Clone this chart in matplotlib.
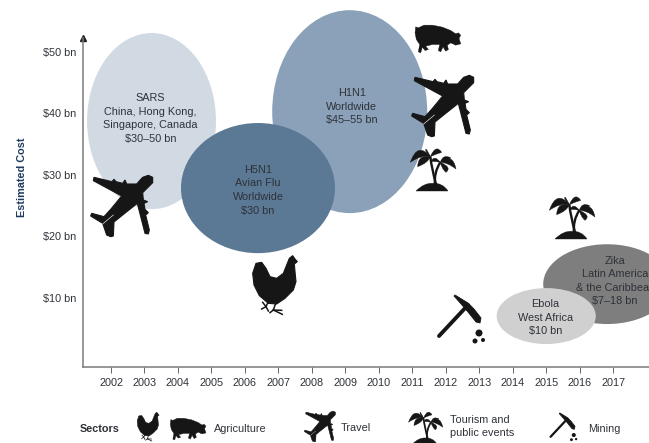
import matplotlib
matplotlib.use('Agg')
import matplotlib.pyplot as plt
from matplotlib.patches import Ellipse, PathPatch, Polygon, Circle
from matplotlib.path import Path
from matplotlib.transforms import Affine2D

plt.rcParams['font.family'] = ['Liberation Sans', 'DejaVu Sans']

# values
years = list(range(2002, 2018))
cost_ticks = [10, 20, 30, 40, 50]
cost_labels = ['$10 bn', '$20 bn', '$30 bn', '$40 bn', '$50 bn']

outbreaks = ['SARS', 'H1N1', 'H5N1', 'Zika', 'Ebola']
mid_year = [2003.21, 2009.13, 2006.39, 2016.82, 2015.0]
mid_cost = [38.76, 40.3, 27.85, 12.2, 7.0]
span_year = [3.85, 4.63, 4.6, 3.82, 2.96]
span_cost = [28.7, 33.06, 21.2, 13.0, 9.12]
captions = ['SARS\nChina, Hong Kong,\nSingapore, Canada\n$30\u201350 bn',
            'H1N1\nWorldwide\n$45\u201355 bn',
            'H5N1\nAvian Flu\nWorldwide\n$30 bn',
            'Zika\nLatin America\n& the Caribbean\n$7\u201318 bn',
            'Ebola\nWest Africa\n$10 bn']

colors = ['#d1d9e3', '#8ba1b9', '#5b7995', '#7e7e7e', '#d0d0d0']
caption_year = [2003.18, 2009.19, 2006.39, 2017.06, 2014.97]
caption_cost = [39.2, 41.1, 27.5, 12.7, 6.7]

TXT = '#2e3238'
FS = 7.8

fig = plt.figure(figsize=(6.49, 4.43), dpi=100)
ax = fig.add_axes([83 / 649, 1 - 367 / 443, 566 / 649, 329 / 443])
ax.set_xlim(2001.163, 2018.07)
ax.set_ylim(-1.3, 52.3)

for i in range(len(outbreaks)):
    ax.add_patch(Ellipse((mid_year[i], mid_cost[i]), span_year[i], span_cost[i],
                         fc=colors[i], ec='none', clip_on=False))
    ax.text(caption_year[i], caption_cost[i], captions[i], ha='center', va='center',
            fontsize=FS, color=TXT, linespacing=1.45, clip_on=False)

for s in ['top', 'right']:
    ax.spines[s].set_visible(False)
for s in ['left', 'bottom']:
    ax.spines[s].set_color('#7a7a7a')
    ax.spines[s].set_linewidth(1.1)
ax.plot(0, 1, '^', color='#222222', ms=4, transform=ax.transAxes, clip_on=False)

ax.set_xticks(years)
ax.set_xticklabels(years, fontsize=FS, color=TXT)
ax.set_yticks(cost_ticks)
ax.set_yticklabels(cost_labels, fontsize=FS, color=TXT)
ax.tick_params(axis='x', length=4, width=0.7, color='#666666', pad=4)
ax.tick_params(axis='y', length=0, pad=5)
ax.set_ylabel('Estimated Cost', fontsize=FS, fontweight='bold', color='#1f3a5f')
ax.yaxis.set_label_coords(27 / 649, 1 - 177 / 443, transform=fig.transFigure)

# icons are drawn in picture pixels, y going down
pix = Affine2D().scale(1, -1).translate(0, 443)

plane = [(205, 16), (188, 22), (170, 42), (140, 42), (135, 30), (128, 40), (108, 35), (102, 28),
         (96, 35), (42, 22), (40, 32), (125, 78), (92, 118), (72, 140), (35, 130), (32, 138),
         (68, 160), (80, 195), (92, 200), (100, 198), (102, 156), (128, 135), (172, 100),
         (195, 190), (205, 192), (208, 180), (197, 135), (205, 128), (195, 118), (192, 100),
         (203, 95), (190, 90), (188, 68), (218, 38), (218, 22)]
pig = [(30, 37), (38, 40), (55, 32), (80, 32), (110, 38), (135, 48), (150, 58), (158, 55),
       (165, 62), (160, 72), (165, 88), (150, 92), (135, 85), (125, 92), (128, 105), (120, 110),
       (112, 97), (105, 112), (98, 108), (102, 90), (80, 90), (60, 95), (68, 105), (58, 108),
       (50, 98), (45, 115), (38, 112), (42, 90), (32, 75), (28, 55)]
hen = [(48, 55), (65, 52), (78, 70), (90, 95), (110, 100), (130, 85), (140, 60), (148, 40),
       (158, 32), (165, 42), (172, 50), (163, 57), (165, 80), (168, 110), (160, 135), (135, 160),
       (110, 177), (85, 175), (58, 152), (42, 120), (38, 85)]
hen_legs = [[(85, 170), (78, 185), (68, 172)], [(78, 185), (85, 198)], [(78, 185), (65, 192)],
            [(108, 172), (100, 195), (127, 208)], [(100, 195), (90, 203)], [(100, 195), (125, 196)]]
fronds = [((88, 38), (28, 55), (50, -8), (60, 32)),
          ((88, 38), (122, 25), (105, -1), (105, 30)),
          ((88, 38), (50, 68), (51, 31), (81, 57)),
          ((88, 38), (75, 15), (70, 22), (82, 24)),
          ((118, 55), (165, 75), (155, 25), (139, 55)),
          ((118, 55), (135, 85), (154, 70), (122, 74)),
          ((118, 55), (90, 52), (100, 31), (104, 52)),
          ((118, 55), (150, 42), (126, 28), (136, 48))]
pick_head = [(17, 0), (30, 8), (36, 14), (43, 23), (42, 28), (38, 27), (30, 17), (24, 10), (16, 1)]
pebbles = [(41, 38, 3.5), (45, 45, 2), (37, 46, 2.5)]


def draw_plane(x, y, scale=1.0):
    t = Affine2D().scale(scale / 3).translate(x, y) + pix
    ax.add_patch(Polygon(plane, closed=True, fc='#161616', ec='#161616', lw=0.8 * scale, transform=t, clip_on=False, zorder=5))
    ax.plot([68, 100], [162, 135], color='#dddddd', lw=0.5 * scale, transform=t, clip_on=False, zorder=6)


def draw_pig(x, y, scale=1.0):
    t = Affine2D().scale(scale / 3).translate(x, y) + pix
    ax.add_patch(Polygon(pig, closed=True, fc='#161616', ec='#161616', lw=0.3, transform=t, clip_on=False, zorder=5))


def draw_hen(x, y, scale=1.0):
    t = Affine2D().scale(scale / 3).translate(x, y) + pix
    ax.add_patch(Polygon(hen, closed=True, fc='#161616', ec='#161616', lw=0.8 * scale, transform=t, clip_on=False, zorder=5))
    for leg in hen_legs:
        xs, ys = zip(*leg)
        ax.plot(xs, ys, color='#161616', lw=1.1 * scale, transform=t, clip_on=False, zorder=5)


def draw_palm(x, y, scale=1.0):
    t = Affine2D().scale(scale / 3).translate(x, y) + pix
    codes3 = [Path.MOVETO, Path.CURVE3, Path.CURVE3, Path.CURVE3, Path.CURVE3, Path.CLOSEPOLY]
    for a, b, c1, c2 in fronds:
        p = Path([a, c1, b, c2, a, a], codes3)
        ax.add_patch(PathPatch(p, fc='#161616', ec='#161616', lw=0.3, transform=t, clip_on=False, zorder=5))
    for a, c, b in [((88, 38), (92, 75), (106, 124)), ((118, 55), (98, 85), (102, 124))]:
        p = Path([a, c, b], [Path.MOVETO, Path.CURVE3, Path.CURVE3])
        ax.add_patch(PathPatch(p, fc='none', ec='#161616', lw=1.7 * scale, transform=t, clip_on=False, zorder=5))
    island = Path([(45, 141), (70, 116), (95, 118), (125, 116), (141, 141), (45, 141)],
                  [Path.MOVETO, Path.CURVE3, Path.CURVE3, Path.CURVE3, Path.CURVE3, Path.CLOSEPOLY])
    ax.add_patch(PathPatch(island, fc='#161616', ec='#161616', lw=0.3, transform=t, clip_on=False, zorder=5))


def draw_pick(x, y, scale=1.0):
    t = Affine2D().scale(scale).translate(x, y) + pix
    ax.plot([1, 30], [41, 10], color='#161616', lw=2.8 * scale, solid_capstyle='round', transform=t, clip_on=False, zorder=5)
    ax.add_patch(Polygon(pick_head, closed=True, fc='#161616', ec='#161616', lw=0.6, transform=t, clip_on=False, zorder=5))
    for px_, py_, r in pebbles:
        ax.add_patch(Circle((px_, py_), r, fc='#161616', ec='none', transform=t, clip_on=False, zorder=5))


draw_plane(80, 170)
draw_plane(401, 70)
draw_pig(405.7, 14.5)
draw_palm(401, 144)
draw_palm(540, 192)
draw_hen(240, 245)
draw_pick(438, 295)

# legend row
fig.text(79.5 / 649, 1 - 429 / 443, 'Sectors', fontsize=FS, fontweight='bold', color=TXT, va='center')
draw_hen(131, 407, 0.49)
draw_pig(163, 410, 0.78)
fig.text(213.6 / 649, 1 - 429 / 443, 'Agriculture', fontsize=FS, color=TXT, va='center')
draw_plane(299, 408.5, 0.5)
fig.text(341 / 649, 1 - 428 / 443, 'Travel', fontsize=FS, color=TXT, va='center')
draw_palm(401.5, 408.5, 0.75)
fig.text(450 / 649, 1 - 426.5 / 443, 'Tourism and\npublic events', fontsize=FS, color=TXT, va='center', linespacing=1.4)
draw_pick(550, 413, 0.58)
fig.text(588 / 649, 1 - 429 / 443, 'Mining', fontsize=FS, color=TXT, va='center')

ax.set_xlim(2001.163, 2018.07)
ax.set_ylim(-1.3, 52.3)
fig.savefig('out.png', dpi=100)
